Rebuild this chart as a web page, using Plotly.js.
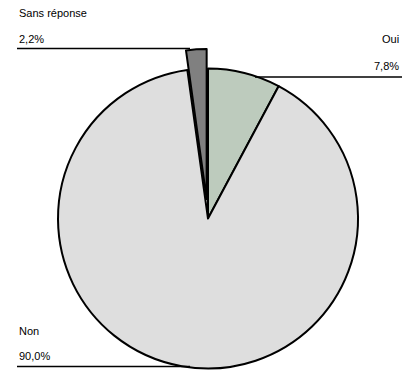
<!DOCTYPE html>
<html>
<head>
<meta charset="utf-8">
<script src="https://cdn.plot.ly/plotly-3.0.1.min.js"></script>
<style>
html,body{margin:0;padding:0;overflow:hidden;background:#fff;}
#chart{width:409px;height:420px;}
</style>
</head>
<body>
<div id="chart"></div>
<script>
// Data
const categories = ["Oui", "Non", "Sans réponse"];
const values = [7.8, 90.0, 2.2];
const valueLabels = ["7,8%", "90,0%", "2,2%"];
const pulls = [0, 0, 0.13];

const W = 409, H = 420;
const px = x => x / W;
const py = y => 1 - y / H;

const colors = ["#bdcbbd", "#dedede", "#808080"];
const maxPull = Math.max(...pulls);
const R = 150, CX = 208, CY = 218.5;
const half = R * (1 + maxPull);

const trace = {
  type: "pie",
  labels: categories,
  values: values,
  sort: false,
  direction: "clockwise",
  rotation: 0,
  pull: pulls,
  textinfo: "none",
  hoverinfo: "label+percent",
  showlegend: false,
  domain: {x: [px(CX - half), px(CX + half)], y: [py(CY + half), py(CY - half)]},
  marker: {
    colors: colors,
    line: {color: "#000000", width: 2}
  }
};

const font = {family: "Liberation Sans, Arial, sans-serif", size: 11, color: "#000"};

const labelSpec = [
  // [category index, x, nameY, valueY, anchor, lineX0, lineX1, lineY]
  [2, 17, 13, 39, "left", 17, 190, 48.5],
  [0, 401, 39, 66, "right", 255, 402, 77],
  [1, 17, 331, 356, "left", 17, 190, 366.5]
];

const annotations = [];
const shapes = [];
labelSpec.forEach(s => {
  const [i, x, ny, vy, anchor, x0, x1, ly] = s;
  annotations.push({xref: "paper", yref: "paper", x: px(x), y: py(ny), text: categories[i],
    showarrow: false, xanchor: anchor, yanchor: "middle", font: font});
  annotations.push({xref: "paper", yref: "paper", x: px(x), y: py(vy), text: valueLabels[i],
    showarrow: false, xanchor: anchor, yanchor: "middle", font: font});
  shapes.push({type: "line", xref: "paper", yref: "paper", x0: px(x0), x1: px(x1), y0: py(ly), y1: py(ly),
    line: {color: "#000", width: 1.5}});
});

const layout = {
  width: W, height: H,
  margin: {l: 0, r: 0, t: 0, b: 0},
  paper_bgcolor: "#ffffff",
  plot_bgcolor: "#ffffff",
  font: font,
  annotations: annotations,
  shapes: shapes
};

Plotly.newPlot("chart", [trace], layout, {staticPlot: true, displayModeBar: false});
</script>
</body>
</html>
